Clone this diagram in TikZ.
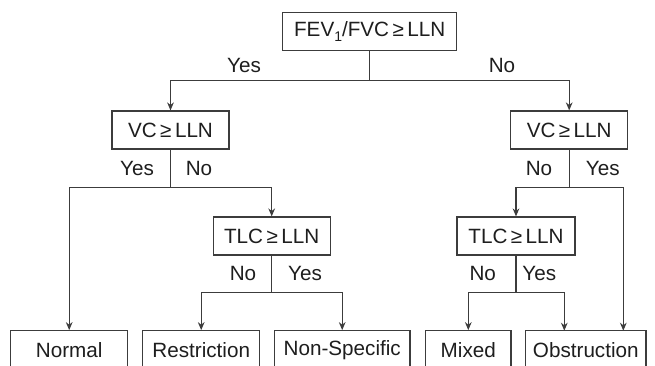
\documentclass[tikz,border=0pt]{standalone}
\usepackage{fontspec}
\setmainfont{Liberation Sans}
\usetikzlibrary{arrows.meta}
\definecolor{ln}{HTML}{3C3C3C}
\definecolor{tx}{HTML}{1E1E1E}
\begin{document}
\begin{tikzpicture}[x=0.75pt,y=-0.75pt,
  box/.style={draw=ln,line width=0.9pt,text=tx,minimum height=28.5pt,inner sep=0pt,font=\fontsize{15.5}{18}\selectfont},
  lbl/.style={text=tx,inner sep=0pt,font=\fontsize{15.5}{18}\selectfont},
  conn/.style={draw=ln,line width=0.9pt},
  arr/.style={conn,-{Stealth[length=6pt,width=5pt]}}]
\clip (0,0) rectangle (655,365);
\fill[white] (0,0) rectangle (655,365);
% nodes
\node[box,minimum width=130.5pt] (top) at (369.7,31.7) {FEV\raisebox{-0.45ex}{\fontsize{10.5}{12}\selectfont 1}/FVC\,≥\,LLN};
\node[box,minimum width=87.75pt] (vcl) at (170.5,130) {VC\,≥\,LLN};
\node[box,minimum width=87.75pt] (vcr) at (569.2,130) {VC\,≥\,LLN};
\node[box,minimum width=87.75pt] (tlcl) at (271.7,236) {TLC\,≥\,LLN};
\node[box,minimum width=88.5pt] (tlcr) at (516,236) {TLC\,≥\,LLN};
\node[box,minimum width=87.75pt] (normal) at (69.2,349.7) {Normal};
\node[box,minimum width=87.75pt] (restr) at (201.2,349.7) {Restriction};
\node[box,minimum width=101.8pt] (nonspec) at (342.2,349.7) {Non-Specific};
\node[box,minimum width=64pt] (mixed) at (468.3,349.7) {Mixed};
\node[box,minimum width=90.2pt] (obs) at (585.8,349.7) {Obstruction};
% junctions
\coordinate (j1) at (369.7,80.7);
\coordinate (j2) at (170.5,187.3);
\coordinate (j3) at (569.2,187.3);
\coordinate (j4) at (271.7,292.3);
\coordinate (j5) at (516,292.3);
\coordinate (obsL) at (564.3,330.7);
\coordinate (obsR) at (623.3,330.7);
% connectors
\draw[conn] (top) -- (j1);
\draw[arr] (j1) -| (vcl.north);
\draw[arr] (j1) -| (vcr.north);
\draw[conn] (vcl) -- (j2);
\draw[arr] (j2) -| (normal.north);
\draw[arr] (j2) -| (tlcl.north);
\draw[conn] (vcr) -- (j3);
\draw[arr] (j3) -| (tlcr.north);
\draw[arr] (j3) -| (obsR);
\draw[conn] (tlcl) -- (j4);
\draw[arr] (j4) -| (restr.north);
\draw[arr] (j4) -| (nonspec.north);
\draw[conn] (tlcr) -- (j5);
\draw[arr] (j5) -| (mixed.north);
\draw[arr] (j5) -| (obsL);
% labels
\node[lbl] (y1) at (244,65) {Yes};
\node[lbl] (n1) at (502,65) {No};
\node[lbl] (y2) at (137,168) {Yes};
\node[lbl] (n2) at (199,168) {No};
\node[lbl] (n3) at (539,168) {No};
\node[lbl] (y3) at (602.7,168) {Yes};
\node[lbl] (n4) at (243,273.3) {No};
\node[lbl] (y4) at (305,273.3) {Yes};
\node[lbl] (n5) at (482.7,273.3) {No};
\node[lbl] (y5) at (539.3,273.3) {Yes};
\end{tikzpicture}
\end{document}
